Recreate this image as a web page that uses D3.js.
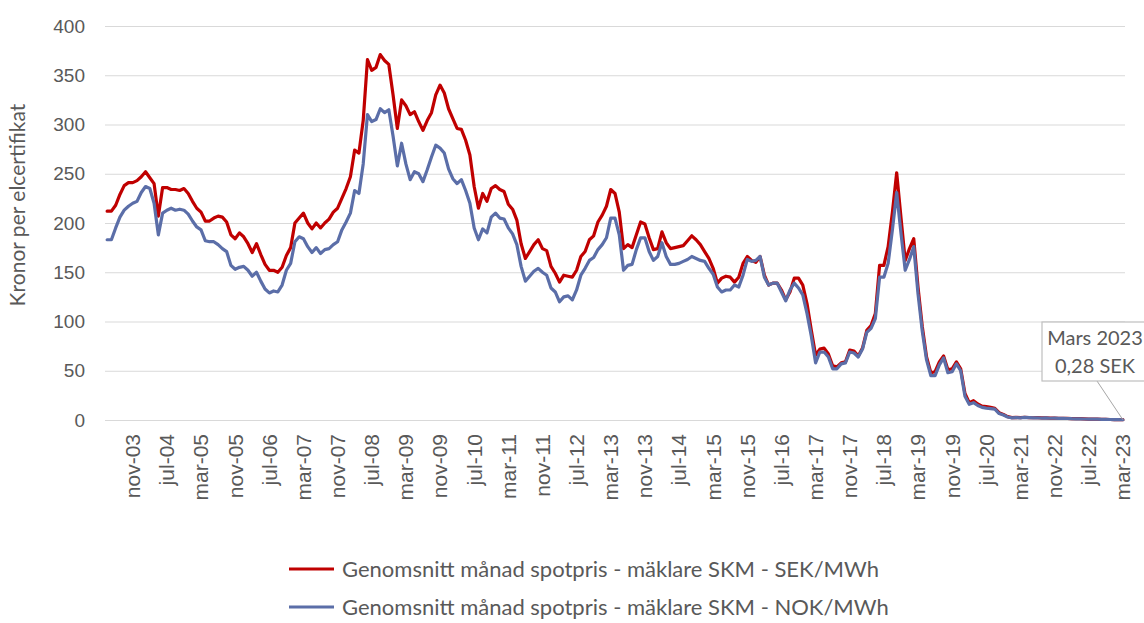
<!DOCTYPE html>
<html>
<head>
<meta charset="utf-8">
<script src="https://cdn.jsdelivr.net/npm/d3@7"></script>
<style>
  body { margin: 0; background: #fff; }
  svg { display: block; font-family: Lato, "Open Sans", sans-serif; }
  .axis text, .lbl { fill: #595959; }
</style>
</head>
<body>
<script>
// monthly averages, maj-03 .. mar-23 (one row per year)
var sekValues = [
  212, 212, 218, 229, 238, 241, 241, 243,
  247, 252, 246, 240, 207, 236, 236, 234, 234, 233, 235, 230,
  222, 215, 211, 202, 202, 205, 207, 206, 201, 188, 184, 190,
  186, 179, 170, 179, 168, 158, 152, 152, 150, 155, 167, 175,
  200, 205, 210, 200, 194, 200, 195, 200, 204, 211, 215, 225,
  235, 247, 274, 271, 304, 366, 355, 358, 371, 365, 361, 330,
  296, 325, 319, 310, 313, 303, 294, 304, 312, 330, 340, 332,
  316, 306, 296, 295, 284, 269, 237, 215, 230, 222, 235, 238,
  234, 232, 219, 214, 203, 179, 164, 171, 178, 183, 174, 172,
  156, 149, 140, 147, 146, 145, 152, 166, 171, 183, 187, 201,
  208, 217, 234, 230, 211, 174, 178, 175, 188, 201, 199, 185,
  173, 174, 191, 180, 174, 175, 176, 177, 182, 187, 183, 178,
  171, 164, 154, 139, 144, 146, 145, 140, 145, 159, 166, 162,
  160, 166, 147, 137, 139, 139, 132, 122, 130, 144, 144, 137,
  118, 91, 66, 72, 73, 67, 55, 54, 58, 59, 71, 70,
  65, 73, 91, 96, 108, 157, 157, 176, 211, 251, 206, 162,
  174, 184, 135, 95, 64, 48, 49, 59, 65, 51, 52, 59,
  52, 27, 17.6, 19.6, 16.2, 14, 13.5, 12.8, 11.8, 7.4, 5.7, 3.4,
  2.4, 2.6, 2.4, 2.8, 2.5, 2.3, 2.4, 2.1, 2.2, 1.9, 2.0, 1.8,
  1.7, 1.6, 1.4, 1.3, 1.3, 1.1, 0.9, 1.0, 0.8, 0.6, 0.6, 0.5,
  0.4, 0.35, 0.28
];
var nokValues = [
  183, 183, 195, 206, 213, 217, 220, 222,
  231, 237, 235, 220, 188, 210, 213, 215, 213, 214, 213, 209,
  202, 196, 193, 182, 181, 181, 178, 174, 171, 157, 153, 155,
  156, 152, 146, 150, 141, 133, 129, 131, 130, 137, 152, 159,
  181, 186, 184, 176, 170, 175, 169, 173, 174, 178, 181, 193,
  201, 210, 233, 230, 260, 310, 303, 305, 316, 312, 315, 288,
  258, 281, 260, 244, 252, 250, 242, 254, 267, 279, 276, 271,
  255, 245, 240, 244, 233, 220, 195, 183, 194, 190, 206, 210,
  205, 204, 195, 189, 178, 156, 141, 146, 151, 154, 150, 147,
  134, 130, 120, 125, 126, 122, 132, 147, 154, 162, 165, 173,
  178, 185, 205, 205, 188, 152, 157, 158, 173, 185, 185, 171,
  162, 166, 180, 166, 158, 158, 159, 161, 163, 166, 164, 162,
  161, 154, 148, 135, 130, 132, 132, 137, 135, 147, 163, 161,
  162, 166, 145, 137, 139, 139, 130, 121, 132, 139, 134, 127,
  108, 85, 58, 69, 69, 64, 52, 52, 57, 58, 69, 68,
  64, 72, 89, 93, 103, 145, 145, 159, 193, 231, 190, 152,
  163, 176, 128, 90, 61, 45, 45, 56, 63, 48, 49, 57,
  50, 24, 16, 17.6, 14.7, 12.8, 12, 11.5, 11, 6.5, 5, 3,
  2.2, 2.4, 2.2, 2.6, 2.4, 2.2, 2.3, 2.0, 2.1, 1.8, 1.9, 1.7,
  1.6, 1.5, 1.3, 1.2, 1.2, 1.0, 0.9, 0.9, 0.8, 0.6, 0.6, 0.5,
  0.4, 0.33, 0.27
];
var xTickLabels = ["nov-03","jul-04","mar-05","nov-05","jul-06","mar-07","nov-07","jul-08",
  "mar-09","nov-09","jul-10","mar-11","nov-11","jul-12","mar-13","nov-13","jul-14","mar-15",
  "nov-15","jul-16","mar-17","nov-17","jul-18","mar-19","nov-19","jul-20","mar-21","nov-22",
  "jul-22","mar-23"];
var yTicks = [0, 50, 100, 150, 200, 250, 300, 350, 400];
var seriesNames = ["Genomsnitt månad spotpris - mäklare SKM - SEK/MWh",
  "Genomsnitt månad spotpris - mäklare SKM - NOK/MWh"];
var calloutText = ["Mars 2023", "0,28 SEK"];

(function () {
  var width = 1144, height = 623;
  var plotLeft = 105, plotRight = 1125, plotTop = 26, plotBottom = 420;
  var colors = ["#c00000", "#5b6ea8"];

  // one category per month, maj-03 .. mar-23
  var months = d3.timeMonth.range(new Date(2003, 4, 1), new Date(2023, 3, 1));
  var idx = d3.range(months.length);

  var x = d3.scaleBand().domain(idx).range([plotLeft, plotRight]);
  var y = d3.scaleLinear().domain([0, 400]).range([plotBottom, plotTop]);
  var cx = function (i) { return x(i) + x.bandwidth() / 2; };

  var svg = d3.select("body").append("svg")
    .attr("width", width)
    .attr("height", height);

  // y gridlines + labels
  var yAxis = svg.append("g")
    .attr("class", "axis")
    .attr("transform", "translate(" + plotLeft + ",0)")
    .call(d3.axisLeft(y).tickValues(yTicks).tickSize(-(plotRight - plotLeft)).tickPadding(20));
  yAxis.select(".domain").remove();
  yAxis.selectAll("line").attr("stroke", "#d9d9d9").attr("stroke-width", 1.2);
  yAxis.selectAll("text").style("font-size", "19px");

  // x labels every 8th month from nov-03
  var tickIdx = idx.filter(function (i) { return i >= 6 && (i - 6) % 8 === 0; });
  var xAxis = svg.append("g")
    .attr("class", "axis")
    .attr("transform", "translate(0," + plotBottom + ")")
    .call(d3.axisBottom(x).tickValues(tickIdx).tickSize(0)
      .tickFormat(function (d, k) { return xTickLabels[k]; }));
  xAxis.select(".domain").remove();
  xAxis.selectAll("text")
    .attr("transform", "rotate(-90)")
    .attr("x", -14)
    .attr("y", 0)
    .attr("dy", "0.35em")
    .style("text-anchor", "end")
    .style("font-size", "21px");

  // y title
  svg.append("text")
    .attr("class", "lbl")
    .attr("transform", "translate(18,205) rotate(-90)")
    .attr("text-anchor", "middle")
    .attr("dy", "0.35em")
    .style("font-size", "21px")
    .text("Kronor per elcertifikat");

  // lines (red under blue)
  var line = d3.line()
    .x(function (d, i) { return cx(i); })
    .y(function (d) { return y(d); });

  [sekValues, nokValues].forEach(function (vals, k) {
    svg.append("path")
      .datum(vals)
      .attr("fill", "none")
      .attr("stroke", colors[k])
      .attr("stroke-width", 3.2)
      .attr("stroke-linejoin", "round")
      .attr("stroke-linecap", "round")
      .attr("d", line);
  });

  // callout for last point
  var last = idx.length - 1;
  svg.append("line")
    .attr("x1", 1097).attr("y1", 381)
    .attr("x2", cx(last)).attr("y2", y(sekValues[last]))
    .attr("stroke", "#a6a6a6").attr("stroke-width", 1);
  svg.append("rect")
    .attr("x", 1042).attr("y", 322)
    .attr("width", 110).attr("height", 59)
    .attr("fill", "#fff")
    .attr("stroke", "#bfbfbf").attr("stroke-width", 1.2);
  calloutText.forEach(function (t, k) {
    svg.append("text")
      .attr("class", "lbl")
      .attr("x", 1095).attr("y", 338 + k * 28)
      .attr("dy", "0.35em")
      .attr("text-anchor", "middle")
      .style("font-size", "20px")
      .text(t);
  });

  // legend
  var legend = svg.selectAll(".legend")
    .data(seriesNames)
    .enter()
    .append("g")
    .attr("class", "legend")
    .attr("transform", function (d, k) { return "translate(289," + (569 + k * 38) + ")"; });
  legend.append("line")
    .attr("x1", 0).attr("x2", 45)
    .attr("stroke", function (d, k) { return colors[k]; })
    .attr("stroke-width", 3.2);
  legend.append("text")
    .attr("class", "lbl")
    .attr("x", 53)
    .attr("dy", "0.35em")
    .style("font-size", "22px")
    .text(function (d) { return d; });
})();
</script>
</body>
</html>
